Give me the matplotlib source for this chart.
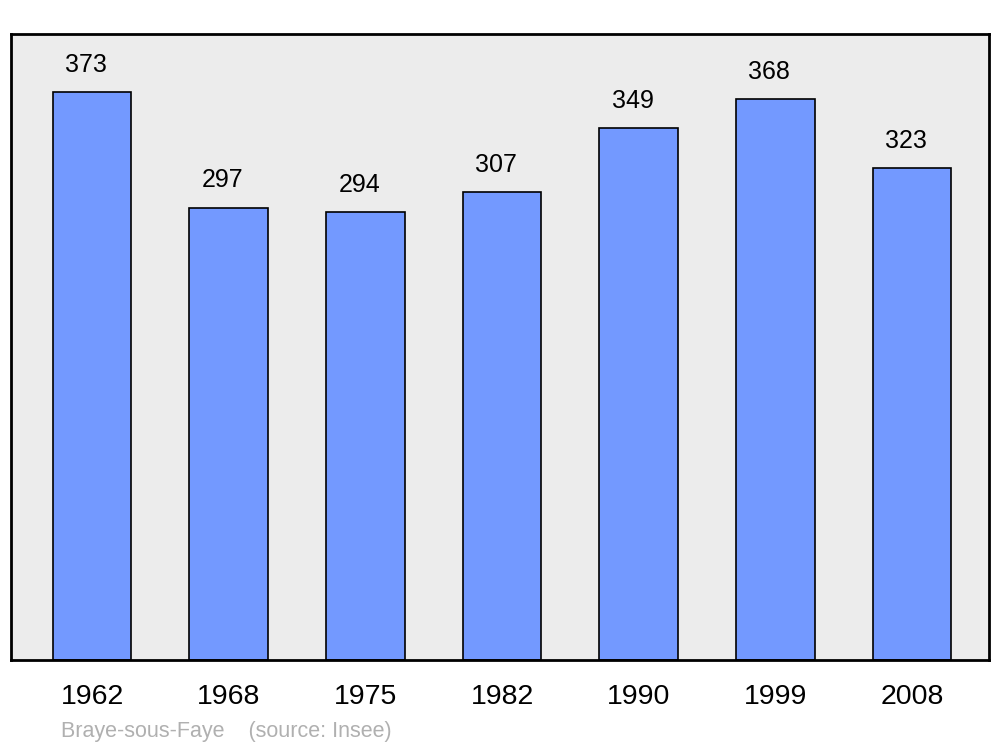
import matplotlib
matplotlib.use('Agg')
import matplotlib.pyplot as plt
import numpy as np

plt.rcParams['font.family'] = ['Liberation Sans', 'DejaVu Sans']

# data
years = ['1962', '1968', '1975', '1982', '1990', '1999', '2008']
population = [373, 297, 294, 307, 349, 368, 323]
commune = 'Braye-sous-Faye'
source = '(source: Insee)'

fig = plt.figure(figsize=(10, 7.47), dpi=100)
ax = fig.add_axes([0.011, 1 - 660 / 747, 0.978, 626 / 747])
ax.set_facecolor('#ececec')

ind = np.arange(len(years))
ax.bar(ind, population, 0.575, color='#7399ff', edgecolor='black',
       linewidth=1.2, zorder=2)
for x, v in zip(ind, population):
    ax.annotate(str(v), (x, v), xytext=(-4.3, 11), textcoords='offset points',
                ha='center', va='bottom', fontsize=18)

ax.set_xlim(-0.593, 6.563)
ax.set_ylim(0, 411)
ax.set_yticks([])
ax.set_xticks(ind)
ax.set_xticklabels(years, fontsize=20.5)
ax.tick_params(axis='x', length=0, pad=17)
for sp in ax.spines.values():
    sp.set_linewidth(2)

fig.text(0.061, 1 - 731 / 747, commune + '    ' + source, color='#b0b0b0',
         fontsize=15.5, va='center', ha='left')

fig.savefig('out.png', dpi=100)
